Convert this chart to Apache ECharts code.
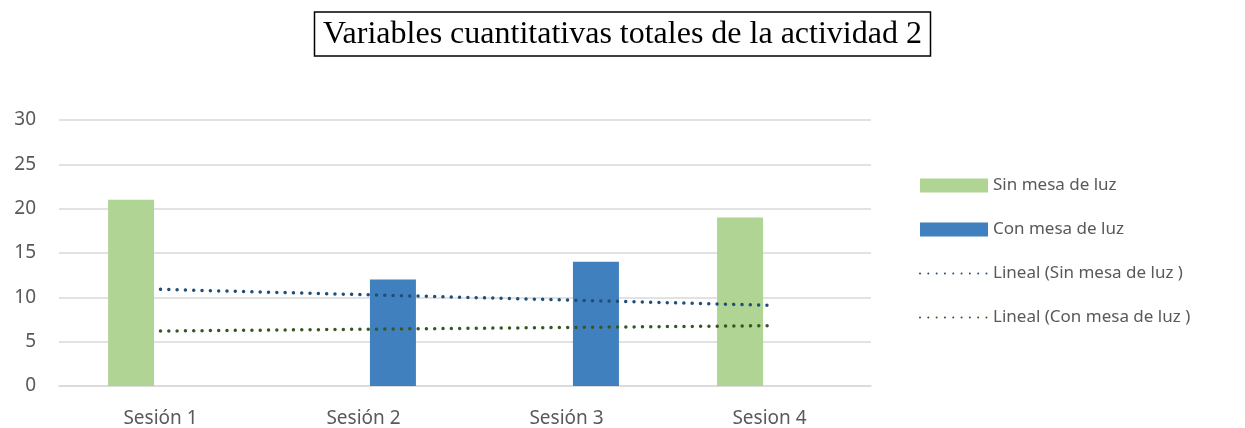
<!DOCTYPE html>
<html>
<head>
<meta charset="utf-8">
<script src="https://cdn.jsdelivr.net/npm/echarts@6/dist/echarts.min.js"></script>
<style>
  html, body { margin: 0; padding: 0; background: #fff; }
  #chart { width: 1245px; height: 428px; }
</style>
</head>
<body>
<div id="chart"></div>
<script>
// categorías y valores
const sesiones = ['Sesión 1', 'Sesión 2', 'Sesión 3', 'Sesion 4']
const sinMesa = [21, '-', '-', 19]
const conMesa = ['-', 12, 14, '-']
// líneas de tendencia
const linealSinMesa = [10.9, 10.3, 9.7, 9.1]
const linealConMesa = [6.2, 6.4, 6.6, 6.8]

const chart = echarts.init(document.getElementById('chart'))
const labelFont = { fontFamily: 'Noto Sans', fontSize: 19, color: '#595959' }
const dotted = { width: 3.5, type: [0.01, 8.3], cap: 'round' }

chart.setOption({
  animation: false,
  title: {
    text: 'Variables cuantitativas totales de la actividad 2',
    left: 'center',
    top: 12,
    padding: [7, 9, 5, 9],
    borderColor: '#000',
    borderWidth: 1.5,
    textStyle: {
      fontFamily: 'Liberation Serif',
      fontWeight: 'normal',
      fontSize: 32,
      color: '#000'
    }
  },
  grid: {
    left: 59,
    right: 374,
    top: 120,
    bottom: 42
  },
  legend: {
    orient: 'vertical',
    left: 914,
    top: 172,
    itemWidth: 68,
    itemHeight: 14,
    itemGap: 27,
    textStyle: { ...labelFont, fontSize: 17 },
    data: [
      { name: 'Sin mesa de luz', icon: 'rect' },
      { name: 'Con mesa de luz', icon: 'rect' },
      { name: 'Lineal (Sin mesa de luz )', itemStyle: { opacity: 0 } },
      { name: 'Lineal (Con mesa de luz )', itemStyle: { opacity: 0 } }
    ]
  },
  xAxis: {
    type: 'category',
    data: sesiones,
    axisLine: { lineStyle: { color: '#d9d9d9', width: 1.5 } },
    axisTick: { show: false },
    axisLabel: { ...labelFont, margin: 23 }
  },
  yAxis: {
    type: 'value',
    min: 0,
    max: 30,
    interval: 5,
    axisLine: { show: false },
    axisTick: { show: false },
    axisLabel: { ...labelFont, margin: 23 },
    splitLine: { lineStyle: { color: '#d9d9d9', width: 1.5 } }
  },
  series: [{
    name: 'Sin mesa de luz',
    type: 'bar',
    data: sinMesa,
    barWidth: 46,
    barGap: '28%',
    itemStyle: { color: '#afd494' }
  }, {
    name: 'Con mesa de luz',
    type: 'bar',
    data: conMesa,
    barWidth: 46,
    barGap: '28%',
    itemStyle: { color: '#4080bf' }
  }, {
    name: 'Lineal (Sin mesa de luz )',
    type: 'line',
    data: linealSinMesa,
    symbol: 'none',
    itemStyle: { color: '#1f4e79' },
    lineStyle: { ...dotted, color: '#1f4e79' },
    z: 5
  }, {
    name: 'Lineal (Con mesa de luz )',
    type: 'line',
    data: linealConMesa,
    symbol: 'none',
    itemStyle: { color: '#375623' },
    lineStyle: { ...dotted, color: '#375623' },
    z: 5
  }]
})
</script>
</body>
</html>
